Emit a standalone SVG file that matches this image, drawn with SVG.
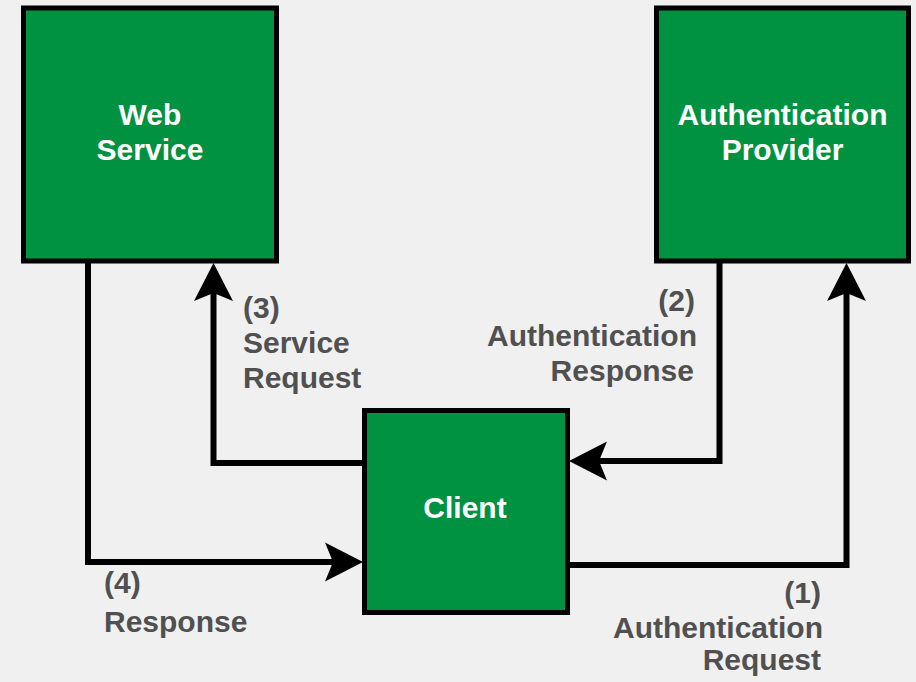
<svg xmlns="http://www.w3.org/2000/svg" width="916" height="682" viewBox="0 0 916 682">
<style>
.box{fill:#009240;stroke:#000;stroke-width:5}
.bt{font-family:"Liberation Sans",Arial,sans-serif;font-weight:bold;font-size:30px;fill:#fff;text-anchor:middle}
.lb{font-family:"Liberation Sans",Arial,sans-serif;font-weight:bold;font-size:30px;fill:#505050}
.cn{fill:none;stroke:#000;stroke-width:6;stroke-linejoin:miter}
</style>
<defs>
<marker id="ah" markerUnits="userSpaceOnUse" markerWidth="60" markerHeight="60" refX="0" refY="0" orient="auto" overflow="visible">
<path d="M30,0 L-8,-19.5 L0,0 L-8,19.5 Z" fill="#000"/>
</marker>
</defs>
<rect width="916" height="682" fill="#f0f0f0"/>
<g id="connectors">
<path class="cn" d="M362,463 H213.5 V293" marker-end="url(#ah)"/>
<path class="cn" d="M88,263 V562 H333" marker-end="url(#ah)"/>
<path class="cn" d="M570,565 H846.5 V293" marker-end="url(#ah)"/>
<path class="cn" d="M719.5,263 V461 H599" marker-end="url(#ah)"/>
</g>
<g id="web-service">
<rect class="box" x="23.5" y="8" width="253" height="253"/>
<text class="bt" x="150" y="125">Web</text>
<text class="bt" x="150" y="160">Service</text>
</g>
<g id="auth-provider">
<rect class="box" x="656.5" y="8" width="252" height="253"/>
<text class="bt" x="782.5" y="125">Authentication</text>
<text class="bt" x="782.5" y="160">Provider</text>
</g>
<g id="client">
<rect class="box" x="364.5" y="410.5" width="203" height="202"/>
<text class="bt" x="465" y="518">Client</text>
</g>
<g id="labels">
<text class="lb" x="243" y="318">(3)</text>
<text class="lb" x="243" y="353">Service</text>
<text class="lb" x="243" y="388">Request</text>
<text class="lb" x="104" y="593">(4)</text>
<text class="lb" x="104" y="632">Response</text>
<text class="lb" text-anchor="end" x="695" y="311">(2)</text>
<text class="lb" text-anchor="end" x="697" y="346">Authentication</text>
<text class="lb" text-anchor="end" x="694" y="381">Response</text>
<text class="lb" text-anchor="end" x="821" y="603">(1)</text>
<text class="lb" text-anchor="end" x="823" y="638">Authentication</text>
<text class="lb" text-anchor="end" x="821" y="670">Request</text>
</g>
</svg>
